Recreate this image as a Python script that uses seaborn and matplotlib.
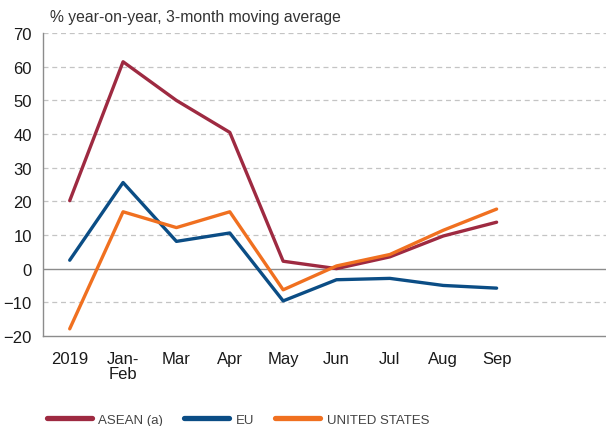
import numpy as np
import pandas as pd
import matplotlib
matplotlib.use('Agg')
import matplotlib.pyplot as plt
import seaborn as sns
from matplotlib.ticker import FixedLocator

# categories and series
months = ['2019', 'Jan-\nFeb', 'Mar', 'Apr', 'May', 'Jun', 'Jul', 'Aug', 'Sep']
asean = [20.2, 61.5, 50.0, 40.5, 2.2, 0.0, 3.5, 9.7, 13.8]
eu = [2.5, 25.6, 8.1, 10.6, -9.6, -3.3, -2.9, -5.0, -5.8]
us = [-17.9, 16.9, 12.2, 16.9, -6.3, 0.8, 4.2, 11.4, 17.7]
series_names = ['ASEAN (a)', 'EU', 'UNITED STATES']
colors = ['#9e2a41', '#0b4d85', '#f07020']
yticks = [-20, -10, 0, 10, 20, 30, 40, 50, 60, 70]

pos = np.arange(len(months))
df = pd.DataFrame({
    'pos': np.tile(pos, 3),
    'value': asean + eu + us,
    'series': np.repeat(series_names, len(months)),
})

sns.set_style('white')
plt.rcParams['font.family'] = ['Liberation Sans', 'DejaVu Sans']

fig = plt.figure(figsize=(6.06, 4.27), dpi=100)
ax = fig.add_axes([0.071, 0.211, 0.929, 0.709])

# grid: dashed light grey, solid line at zero
for y in yticks:
    if y == 0:
        ax.axhline(y, color='#8c8c8c', lw=1.0, zorder=1)
    elif y != -20:
        ax.axhline(y, color='#c4c4c4', lw=0.9, ls=(0, (4, 3)), zorder=1)

sns.lineplot(data=df, x='pos', y='value', hue='series', palette=colors,
             hue_order=series_names, linewidth=2.4, ax=ax, zorder=3)

ax.set_xlim(-0.5, 10.05)
ax.set_ylim(-20, 70)
ax.set_yticks(yticks)
ax.set_xticks(pos)
ax.set_xticklabels(months, fontsize=12, linespacing=1.0)
ax.xaxis.set_minor_locator(FixedLocator(pos[:-1] + 0.5))
ax.tick_params(axis='x', which='major', length=0, pad=11, colors='#1a1a1a')
ax.tick_params(axis='x', which='minor', direction='in', length=4, width=0.8, color='#8c8c8c')
ax.tick_params(axis='y', length=0, pad=8, labelsize=12, colors='#1a1a1a')

ax.set_xlabel('')
ax.set_ylabel('')
for s in ['top', 'right']:
    ax.spines[s].set_visible(False)
for s in ['left', 'bottom']:
    ax.spines[s].set_color('#8c8c8c')
    ax.spines[s].set_linewidth(1.0)

fig.text(0.082, 0.958, '% year-on-year, 3-month moving average', fontsize=11.3,
         color='#333333', va='center', ha='left')

ax.legend_.remove()
handles = [plt.Line2D([], [], color=c, lw=3.8) for c in colors]
fig.legend(handles, series_names, loc='center left', bbox_to_anchor=(0.058, 0.015),
           ncol=3, frameon=False, handlelength=3.4, columnspacing=1.6,
           handletextpad=0.5, prop={'size': 9.5},
           labelcolor='#444444')

fig.savefig('out.png', dpi=100)
